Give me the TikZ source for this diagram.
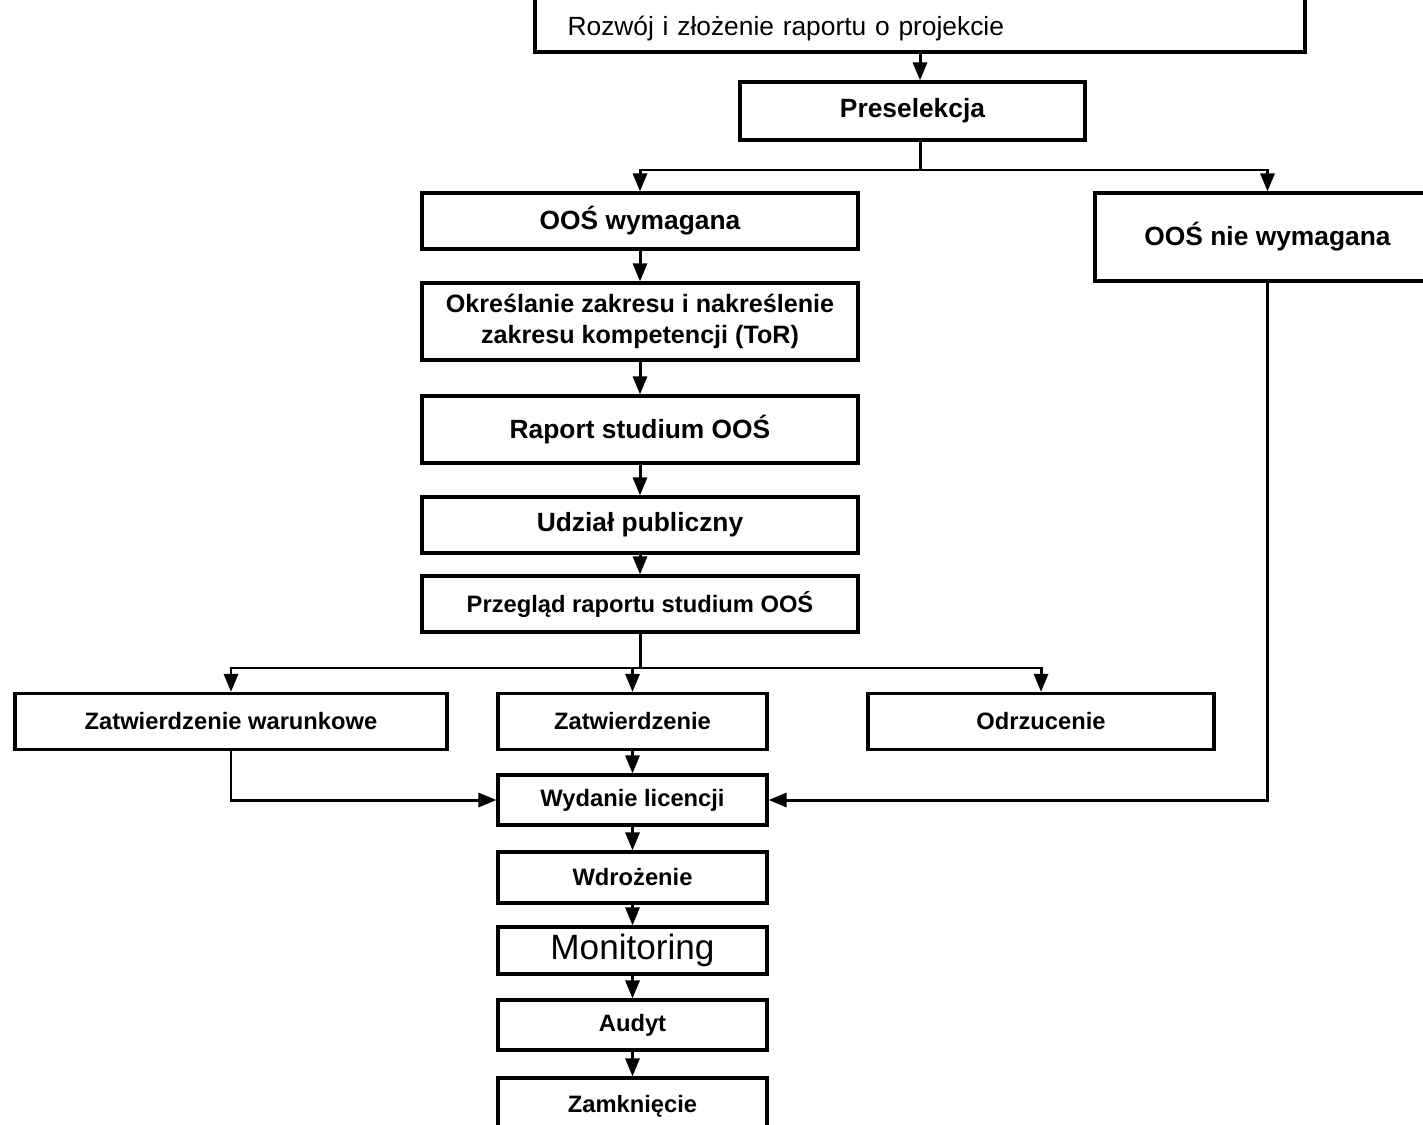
\documentclass[tikz,border=0pt]{standalone}
\usepackage{fontspec}
\setmainfont{Liberation Sans}
\usetikzlibrary{positioning,arrows.meta}

\begin{document}
\begin{tikzpicture}[
  x=0.02cm, y=-0.02cm,
  box/.style={draw=black, line width=1.8pt, minimum height=1.12cm, inner sep=0pt, align=center, font=\fontsize{15}{18}\selectfont\bfseries},
  widebox/.style={box, minimum width=8.72cm},
  smallbox/.style={box, minimum width=5.38cm, font=\fontsize{13.5}{16}\selectfont\bfseries},
  arrow/.style={-{Triangle[length=3.6mm, width=2.8mm]}, line width=1.7pt},
  link/.style={line width=1.7pt}
]
\useasboundingbox (0,0) rectangle (1423,1125);

% top of the flow
\node[box, draw=none, anchor=south, minimum width=15.34cm, text width=14.1cm, align=left,
  text height=2cm, text depth=0pt, inner xsep=0.62cm, inner ysep=0.3cm,
  font=\fontsize{15}{18}\selectfont] (raport) at (920,52) {Rozwój i złożenie raportu o projekcie};
\draw[line width=1.8pt] (raport.north west) |- (raport.south east) -- (raport.north east);
\node[box, minimum width=6.9cm, minimum height=1.16cm] (presel) at (912.5,111) {Preselekcja};

% main column
\node[widebox] (wymag) at (640,221) {OOŚ wymagana};
\node[box, minimum width=6.9cm, minimum height=1.76cm] (niewym) at (1267.5,237) {OOŚ nie wymagana};
\node[widebox, minimum height=1.54cm, font=\fontsize{14.3}{17.5}\selectfont\bfseries] (zakres) at (640,321.5) {Określanie zakresu i nakreślenie\\zakresu kompetencji (ToR)};
\node[widebox, minimum height=1.34cm] (studium) at (640,429.5) {Raport studium OOŚ};
\node[widebox] (udzial) at (640,525) {Udział publiczny};
\node[widebox, font=\fontsize{13.5}{16}\selectfont\bfseries] (przeglad) at (640,604) {Przegląd raportu studium OOŚ};

% decisions
\node[smallbox, minimum width=8.64cm] (warunk) at (231,721.5) {Zatwierdzenie warunkowe};
\node[smallbox] (zatw) at (632.5,721.5) {Zatwierdzenie};
\node[smallbox, minimum width=6.92cm] (odrz) at (1041,721.5) {Odrzucenie};

% after approval
\node[smallbox, minimum height=1cm] (licencja) at (632.5,800) {Wydanie licencji};
\node[smallbox, minimum height=1.02cm] (wdroz) at (632.5,877.5) {Wdrożenie};
\node[smallbox, minimum height=0.94cm, font=\fontsize{20}{24}\selectfont] (monit) at (632.5,950.5) {Monitoring};
\node[smallbox, minimum height=1cm] (audyt) at (632.5,1025) {Audyt};
\node[smallbox] (zamk) at (632.5,1106) {Zamknięcie};

\coordinate (split1) at (920,170);
\coordinate (split2) at (640,668);

\draw[arrow] (raport.south) -- (raport.south |- presel.north);
\draw[link] (presel.south -| split1) -- (split1);
\draw[arrow] (split1) -| (wymag.north);
\draw[arrow] (split1) -| (niewym.north);
\draw[arrow] (wymag) -- (zakres);
\draw[arrow] (zakres) -- (studium);
\draw[arrow] (studium) -- (udzial);
\draw[arrow] (udzial) -- (przeglad);
\draw[link] (przeglad.south) -- (split2);
\draw[arrow] (split2) -| (warunk.north);
\draw[arrow] (split2) -| (zatw.north);
\draw[arrow] (split2) -| (odrz.north);
\draw[arrow] (zatw) -- (licencja);
\draw[arrow] (warunk.south) |- (licencja.west);
\draw[arrow] (niewym.south) |- (licencja.east);
\draw[arrow] (licencja) -- (wdroz);
\draw[arrow] (wdroz) -- (monit);
\draw[arrow] (monit) -- (audyt);
\draw[arrow] (audyt) -- (zamk);
\end{tikzpicture}
\end{document}
